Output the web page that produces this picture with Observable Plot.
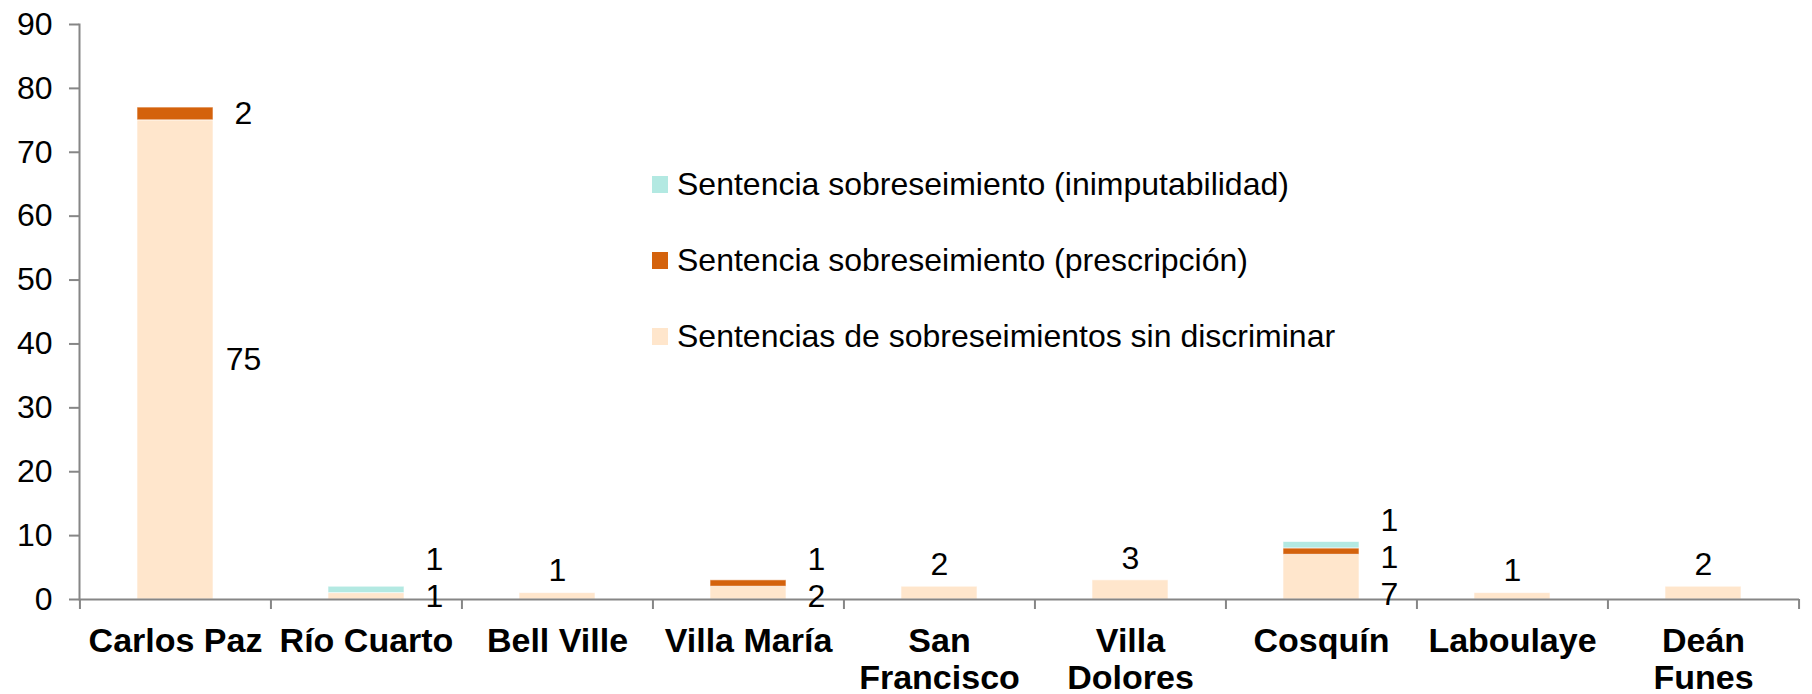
<!DOCTYPE html>
<html>
<head>
<meta charset="utf-8">
<script src="https://cdn.jsdelivr.net/npm/d3@7"></script>
<script src="https://cdn.jsdelivr.net/npm/@observablehq/plot@0.6"></script>
<style>
  html, body { margin: 0; padding: 0; background: #fff; }
  #wrap { position: relative; width: 1812px; height: 694px; font-family: "Liberation Sans", Arial, sans-serif; }
  .leg { position: absolute; left: 652px; height: 40px; display: flex; align-items: center; font-size: 32px; color: #000; white-space: nowrap; }
  .sw { width: 16px; height: 17px; margin-right: 9px; flex: none; }
</style>
</head>
<body>
<div id="wrap"></div>
<script>
// ---- data ----
const categories = ["Carlos Paz", "Río Cuarto", "Bell Ville", "Villa María", "San Francisco", "Villa Dolores", "Cosquín", "Laboulaye", "Deán Funes"];
const categoryLabels = ["Carlos Paz", "Río Cuarto", "Bell Ville", "Villa María", "San\nFrancisco", "Villa\nDolores", "Cosquín", "Laboulaye", "Deán\nFunes"];
const seriesNames = [
  "Sentencias de sobreseimientos sin discriminar",
  "Sentencia sobreseimiento (prescripción)",
  "Sentencia sobreseimiento (inimputabilidad)"
];
const sinDiscriminar = [75, 1, 1, 2, 2, 3, 7, 1, 2];
const prescripcion   = [2, 0, 0, 1, 0, 0, 1, 0, 0];
const inimputabilidad = [0, 1, 0, 0, 0, 0, 1, 0, 0];
const yTicks = [0, 10, 20, 30, 40, 50, 60, 70, 80, 90];
const seriesColors = ["#FFE6CC", "#D4620C", "#B3E9E2"];

// ---- build table ----
const seriesValues = [sinDiscriminar, prescripcion, inimputabilidad];
const table = [];
categories.forEach((c, i) => {
  seriesValues.forEach((vals, s) => {
    if (vals[i] > 0) table.push({cat: c, series: seriesNames[s], value: vals[i]});
  });
});

// ---- label placement (derived from stacked values) ----
const minSep = 5.8, minBottom = 0.5;
const sideLabels = [], topLabels = [];
categories.forEach((c, i) => {
  let base = 0;
  const segs = [];
  seriesValues.forEach(vals => {
    const v = vals[i];
    if (v > 0) { segs.push({cat: c, t: String(v), mid: base + v / 2}); base += v; }
  });
  if (segs.length === 1) {
    topLabels.push({cat: c, t: segs[0].t, ly: base});
  } else {
    let overlap = false;
    for (let k = 1; k < segs.length; k++) if (segs[k].mid - segs[k - 1].mid < minSep) overlap = true;
    if (!overlap) {
      segs.forEach(s => sideLabels.push({cat: c, t: s.t, ly: s.mid}));
    } else {
      const mean = d3.mean(segs, s => s.mid);
      const n = segs.length;
      let pos = segs.map((s, k) => mean + (k - (n - 1) / 2) * minSep);
      if (pos[0] < minBottom) { const sh = minBottom - pos[0]; pos = pos.map(p => p + sh); }
      segs.forEach((s, k) => sideLabels.push({cat: c, t: s.t, ly: pos[k]}));
    }
  }
});

const W = 1812, H = 694;
const mL = 79, mR = 13, mT = 24, mB = 95;
const step = (W - mL - mR) / categories.length;
const gray = "#868686";
const labelMap = new Map(categories.map((c, i) => [c, categoryLabels[i]]));
const tickUnits = 10 * 90 / (H - mT - mB);

const chart = Plot.plot({
  width: W, height: H,
  marginLeft: mL, marginRight: mR, marginTop: mT, marginBottom: mB,
  style: {fontFamily: '"Liberation Sans", Arial, sans-serif', fontSize: "32px", background: "#fff", color: "#000", overflow: "visible"},
  x: {type: "band", domain: categories, paddingInner: 0.6, paddingOuter: 0.3, axis: null},
  y: {domain: [0, 90], axis: null},
  color: {domain: seriesNames, range: seriesColors},
  marks: [
    Plot.barY(table, {x: "cat", y: "value", fill: "series", stroke: "#fff", strokeWidth: 1, strokeOpacity: 0.6}),
    Plot.axisY({ticks: yTicks, tickSize: 10, tickPadding: 17, stroke: gray, strokeWidth: 2, fill: "#000", fontSize: 32}),
    Plot.frame({anchor: "left", stroke: gray, strokeWidth: 2}),
    Plot.ruleY([0], {stroke: gray, strokeWidth: 2}),
    Plot.ruleX(categories, {x: d => d, y1: 0, y2: -tickUnits, dx: -step / 2, stroke: gray, strokeWidth: 2}),
    Plot.ruleX([categories[categories.length - 1]], {x: d => d, y1: 0, y2: -tickUnits, dx: step / 2, stroke: gray, strokeWidth: 2}),
    Plot.text(categories, {x: d => d, y: () => 0, text: d => labelMap.get(d), lineAnchor: "top", dy: 26, lineHeight: 1.1, fontSize: 34, fontWeight: "bold", fill: "#000"}),
    Plot.text(sideLabels, {x: "cat", y: "ly", text: "t", dx: 68, textAnchor: "middle", fontSize: 32, fill: "#000"}),
    Plot.text(topLabels, {x: "cat", y: "ly", text: "t", dy: -22, textAnchor: "middle", fontSize: 32, fill: "#000"})
  ]
});

const wrap = document.getElementById("wrap");
wrap.appendChild(chart);

// legend (overlay inside the plot area)
const legendOrder = [2, 1, 0];
const legendCenters = [184, 260, 336];
legendOrder.forEach((s, k) => {
  const item = document.createElement("div");
  item.className = "leg";
  item.style.top = (legendCenters[k] - 20) + "px";
  const sw = document.createElement("span");
  sw.className = "sw";
  sw.style.background = seriesColors[s];
  const tx = document.createElement("span");
  tx.textContent = seriesNames[s];
  item.appendChild(sw);
  item.appendChild(tx);
  wrap.appendChild(item);
});
</script>
</body>
</html>
